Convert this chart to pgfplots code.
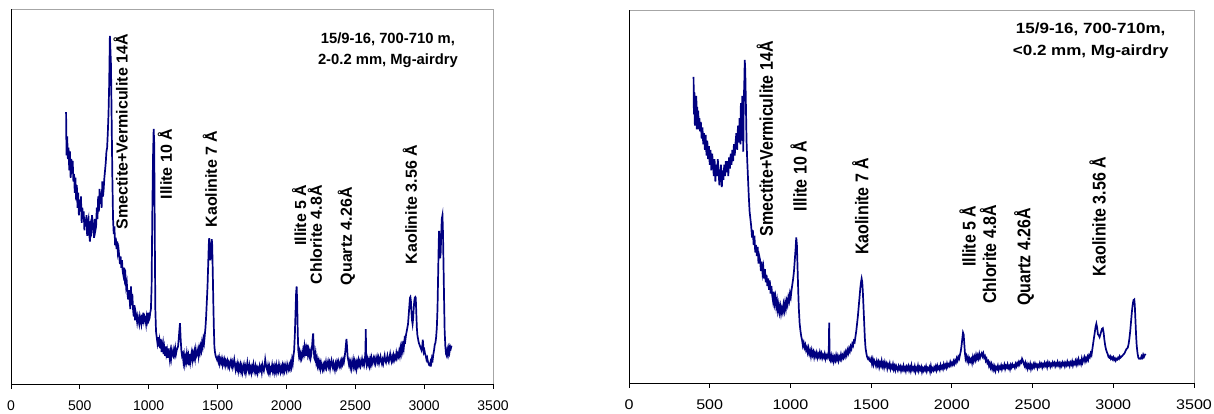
\documentclass[border=0pt]{standalone}
\usepackage{fontspec}
\setmainfont{Liberation Sans}
\usepackage{pgfplots}
\pgfplotsset{compat=1.18}
\definecolor{xrd}{RGB}{0,0,128}

\pgfplotsset{
  xrdpanel/.style={
    anchor=south west, scale only axis,
    xmin=0, xmax=3500, ymin=0, ymax=100,
    xtick={0,500,...,3500}, ytick=\empty,
    axis x line*=bottom, axis y line*=left,
    axis line style={-, black, line width=0.9pt},
    axis background/.style={draw=gray!70, line width=0.9pt},
    xtick align=outside, major tick length=5pt,
    tick style={black, line width=0.9pt},
    xticklabel style={font=\fontsize{14}{16}\selectfont, yshift=-8pt},
    /pgf/number format/assume math mode=true,
    /pgf/number format/set thousands separator={},
  },
}
\tikzset{
  pk/.style={rotate=90, anchor=west, inner sep=0pt, font=\fontsize{16}{18}\selectfont\bfseries},
  ttl/.style={anchor=center, inner sep=0pt, font=\fontsize{14.8}{18}\selectfont\bfseries},
}

\begin{document}
\begin{tikzpicture}
\useasboundingbox (0,0) rectangle (1214pt,414pt);

% ---- left: 2-0.2 mm fraction
\begin{axis}[xrdpanel, at={(11pt,30pt)}, width=482pt, height=375pt]
\addplot[xrd, line width=1.7pt] coordinates {
(400,72.5)(403,61)(408,66)(413,60)(418,63)(423,57)(428,62)(433,55)(438,60)(443,58)
(448,59.5)(453,54)(458,56)(463,51)(468,55)(473,49)(478,53)(483,47)(488,51)(493,45)
(498,49)(503,46)(508,50)(513,43)(518,47)(523,44)(528,46)(533,41)(538,44)(543,42)
(548,45)(553,39.5)(558,43)(563,44)(568,40)(573,38)(578,42)(583,41)(588,45)(593,43)
(598,41)(603,39)(608,44)(613,41)(618,42)(623,47)(628,44)(633,50)(638,46)(643,52)
(648,48)(653,51)(658,47)(663,54)(668,50)(673,52)(678,55)(683,57)(688,59)(693,62)
(698,63)(703,67)(708,72)(713,80)(718,92.8)(721,90)(726,85)(731,70)(736,55)(741,44)
(746,40)(751,42)(756,37)(761,39)(766,36)(771,38)(776,35)(781,36)(786,34)(791,32)
(796,34)(801,31)(806,33)(811,30)(816,29)(821,31)(826,28)(831,29)(836,26)(841,27)
(846,24)(851,22.5)(856,25)(861,23)(866,20)(871,26)(876,21)(881,24)(886,20)(891,18)
(896,21)(901,17)(906,19)(911,18)(916,16.5)(921,18)(926,17)(931,16)(936,18)(941,17)
(946,16)(951,18.5)(956,16)(961,19)(966,17)(971,18)(976,17.5)(981,16)(986,18)(991,17)
(996,19)(1001,17)(1006,17.5)(1011,19)(1016,20)(1021,26)(1026,45)(1031,60)(1036,68)(1040,64)
(1044,40)(1048,20)(1053,14)(1058,12.5)(1063,11)(1068,12.5)(1073,10)(1078,11.5)(1083,9.5)(1088,12)
(1093,8.5)(1098,10)(1103,11)(1108,8)(1113,9.5)(1118,7.5)(1123,10)(1128,8)(1133,9)(1138,7)
(1143,9.5)(1148,8)(1153,6.5)(1158,8.5)(1163,7)(1168,9)(1173,8)(1178,7.5)(1183,9)(1188,8)
(1193,9.5)(1198,8)(1203,9)(1208,9.5)(1213,10)(1218,12)(1223,14.5)(1227,16.2)(1232,12)(1237,9)
(1242,7.5)(1247,8)(1252,6)(1257,7.5)(1262,5.5)(1267,7)(1272,6)(1277,8)(1282,6.5)(1287,7.5)
(1292,5)(1297,8)(1302,6)(1307,7.5)(1312,8.5)(1317,6.5)(1322,8)(1327,7)(1332,8.5)(1337,7)
(1342,9)(1347,7.5)(1352,8)(1357,9)(1362,7.5)(1367,9.5)(1372,8.5)(1377,10)(1382,9)(1387,11)
(1392,10)(1397,12)(1402,11)(1407,13)(1412,15)(1417,18)(1422,22)(1427,26)(1432,32)(1436,37)
(1439,38.9)(1443,36)(1447,33)(1450,34)(1454,37)(1458,38.6)(1461,37)(1465,30)(1469,22)(1473,15)
(1477,10)(1481,8.5)(1486,7.5)(1491,7)(1496,6.5)(1501,7)(1506,6)(1511,7)(1516,5.5)(1521,6.5)
(1526,5.8)(1531,6.7)(1536,5.2)(1541,6.3)(1546,5.5)(1551,6.4)(1556,5)(1561,6)(1566,5.3)(1571,6.1)
(1576,4.8)(1581,5.6)(1586,4.5)(1591,5.5)(1596,6.2)(1601,5)(1606,5.8)(1611,4.5)(1616,5.4)(1621,6.5)
(1626,5)(1631,3.8)(1636,5)(1641,4.2)(1646,5.3)(1651,3.6)(1656,4.8)(1661,3.9)(1666,5)(1671,3.5)
(1676,4.6)(1681,3.2)(1686,4.4)(1691,5.2)(1696,3.6)(1701,4.5)(1706,3)(1711,4.2)(1716,5.6)(1721,4)
(1726,3.3)(1731,4.8)(1736,3.5)(1741,4.3)(1746,3.1)(1751,4.5)(1756,3.7)(1761,5.2)(1766,4)(1771,3.2)
(1776,4.6)(1781,3.4)(1786,4.2)(1791,3)(1796,4.1)(1801,3.6)(1806,4.8)(1811,3.9)(1816,4.5)(1821,3.2)
(1826,5)(1831,4.1)(1836,3.5)(1841,4.7)(1846,6.5)(1851,5.2)(1856,4.4)(1861,3.6)(1866,4.8)(1871,3.4)
(1876,4.5)(1881,3.1)(1886,4.2)(1891,3.8)(1896,5)(1901,3.5)(1906,4.4)(1911,3.2)(1916,4.6)(1921,3.6)
(1926,4.9)(1931,3.3)(1936,4.3)(1941,3.5)(1946,5.1)(1951,4)(1956,3.2)(1961,4.5)(1966,3.7)(1971,4.8)
(1976,3.4)(1981,4.6)(1986,3.6)(1991,5)(1996,4.2)(2001,3.5)(2006,5.2)(2011,4.4)(2016,3.8)(2021,5)
(2026,4.2)(2031,5.5)(2036,4.6)(2041,6.5)(2046,5.5)(2051,7.5)(2056,9)(2061,13)(2066,19)(2070,24)
(2074,26)(2078,22)(2082,14)(2086,9)(2091,7.5)(2096,8.5)(2101,7)(2106,8)(2111,6.8)(2116,7.5)
(2121,9)(2126,8)(2131,10)(2136,8.5)(2141,9.5)(2146,7.5)(2151,10.5)(2156,8)(2161,9)(2166,7.5)
(2171,8.5)(2176,7)(2181,8)(2186,10)(2190,12)(2194,13.5)(2198,10)(2202,7)(2207,6.5)(2212,8)
(2217,5.8)(2222,6.7)(2227,5)(2232,6)(2237,4.7)(2242,5.7)(2247,4.2)(2252,5.5)(2257,4.5)(2262,3.8)
(2267,5)(2272,4.1)(2277,5.3)(2282,4.6)(2287,5.8)(2292,4.4)(2297,5.2)(2302,6)(2307,4.7)(2312,5.6)
(2317,4.2)(2322,5.5)(2327,6.3)(2332,5)(2337,4.3)(2342,5.6)(2347,4.8)(2352,3.8)(2357,5.3)(2362,4.4)
(2367,5.7)(2372,4.8)(2377,6)(2382,5.2)(2387,4.6)(2392,5.8)(2397,5)(2402,6.2)(2407,5.4)(2412,6.5)
(2417,5.8)(2422,7)(2427,8.5)(2432,10.5)(2436,12)(2440,10)(2444,7.5)(2449,6.3)(2454,5.2)(2459,6)
(2464,4.6)(2469,5.7)(2474,4.2)(2479,5.3)(2484,6.4)(2489,4.8)(2494,5.9)(2499,4.5)(2504,5.5)(2509,4.2)
(2514,5.8)(2519,5)(2524,6.3)(2529,5.2)(2534,6)(2539,4.8)(2544,5.5)(2549,6.6)(2554,5.4)(2559,6)
(2564,5)(2569,6)(2574,9)(2576,14.6)(2579,8)(2583,5.5)(2588,6.5)(2593,5.3)(2598,6.2)(2603,5)
(2608,6.5)(2613,5.3)(2618,6.8)(2623,5.6)(2628,6.4)(2633,7)(2638,5.8)(2643,6.7)(2648,5.5)(2653,6.3)
(2658,7.2)(2663,6)(2668,6.9)(2673,5.6)(2678,6.5)(2683,7.3)(2688,6.1)(2693,5.4)(2698,6.4)(2703,5.5)
(2708,6.7)(2713,7.6)(2718,6.2)(2723,5.7)(2728,6.6)(2733,7.5)(2738,6.3)(2743,5.8)(2748,7)(2753,8)
(2758,6.7)(2763,6)(2768,7.2)(2773,6.4)(2778,7.6)(2783,6.5)(2788,7.3)(2793,6.8)(2798,8.2)(2803,7.1)
(2808,8)(2813,7.4)(2818,8.6)(2823,7.6)(2828,9.5)(2833,8.3)(2838,10)(2843,9)(2848,11.5)(2853,10)
(2858,12)(2863,11.5)(2868,13)(2873,14)(2878,15)(2883,16)(2888,18.5)(2893,21)(2897,23)(2900,23.2)
(2904,22)(2908,19)(2912,17)(2916,16)(2920,17.5)(2924,20)(2928,22)(2932,23)(2936,23.2)(2939,23)
(2943,19)(2947,15)(2951,13)(2956,12)(2961,11)(2966,10.5)(2971,10)(2976,9.5)(2981,9)(2986,10)
(2990,11.8)(2993,10.5)(2997,8.5)(3002,9)(3007,8)(3012,7.5)(3017,6.5)(3022,7)(3027,6)(3032,5.5)
(3037,5)(3042,4.9)(3047,6)(3052,5.5)(3057,7)(3062,6.5)(3067,8)(3072,9)(3077,10.5)(3082,11)
(3087,12.5)(3092,15)(3097,20)(3101,28)(3105,36)(3108,40.8)(3112,38)(3116,33.5)(3120,35)(3124,40)
(3128,44)(3133,45)(3137,40)(3141,31)(3145,22)(3149,14)(3154,10)(3159,8)(3164,7.5)(3169,9)
(3174,8)(3179,9.5)(3184,8.5)(3189,10)(3194,9.5)(3199,10.2)
};
\node[pk] at (axis cs:796,41.2) {Smectite+Vermiculite 14Å};
\node[pk] at (axis cs:1118,49.2) {Illite 10 Å};
\node[pk] at (axis cs:1444,41.7) {Kaolinite 7 Å};
\node[pk] at (axis cs:2092,36.8) {Illite 5 Å};
\node[pk] at (axis cs:2206,26.6) {Chlorite 4.8Å};
\node[pk] at (axis cs:2436,26.3) {Quartz 4.26Å};
\node[pk] at (axis cs:2896,31.9) {Kaolinite 3.56 Å};
\node[ttl] at (axis cs:2737,92) {15/9-16, 700-710 m,};
\node[ttl] at (axis cs:2737,86.3) {2-0.2 mm, Mg-airdry};
\end{axis}

% ---- right: <0.2 mm fraction (chart is stretched sideways in the source)
\begin{axis}[xrdpanel, at={(629pt,31pt)}, width=565pt, height=373pt,
  xticklabel style={xscale=1.15}]
\addplot[xrd, line width=1.7pt] coordinates {
(400,82.1)(402,72)(405,78)(408,69)(411,76)(414,70)(417,77)(420,68)(423,74)(426,69.5)
(429,73)(432,68)(436,71)(440,67.5)(445,70)(450,65.5)(455,68.5)(460,64)(465,67)(470,62.5)
(475,66.5)(480,61)(485,65)(490,60)(495,63.5)(500,58.5)(505,62.5)(510,57)(515,61.5)(520,59)
(525,55.5)(530,60)(535,54)(540,58.5)(545,55.5)(550,60)(555,56.5)(560,53)(565,56)(570,58.5)
(575,52.5)(580,57)(585,54.5)(590,58.5)(595,55.5)(600,59.5)(605,56.5)(610,59.5)(615,55.5)(620,60.5)
(625,57.5)(630,61.5)(635,58.5)(640,62.5)(645,59.5)(650,64)(655,61)(660,64.5)(665,67)(670,62.5)
(675,69)(680,64.5)(685,71)(690,64)(693,75)(696,65)(699,73)(702,77)(705,69)(708,62)
(711,76)(714,80)(717,86.6)(720,84)(724,75)(728,65)(732,60)(737,55)(742,50)(747,46)
(752,44)(757,42)(762,39)(767,41)(772,37)(777,39.5)(782,35)(787,37)(792,34)(797,36.5)
(802,32)(807,34)(812,33)(817,30)(822,32.5)(827,29.5)(832,31)(837,28)(842,30.5)(847,27)
(852,29)(857,26)(862,28)(867,25)(872,27.5)(877,24)(882,26)(887,23.5)(892,22)(897,24.5)
(902,21.5)(907,23)(912,20.5)(917,22)(922,19.5)(927,21)(932,19)(937,20.5)(942,18.6)(947,20)
(952,19)(957,21)(962,19.5)(967,21.5)(972,20)(977,22)(982,21)(987,23)(992,22)(997,24)
(1002,23)(1007,25)(1012,26.5)(1017,28)(1022,30)(1027,33)(1032,36)(1036,39)(1040,37)(1044,31)
(1048,25)(1052,20)(1057,16)(1062,14)(1067,12.5)(1072,11.5)(1077,10)(1082,10.8)(1087,9.5)(1092,10.2)
(1097,8.8)(1102,9.5)(1107,8.2)(1112,9.3)(1117,7.8)(1122,8.6)(1127,7.2)(1132,8.7)(1137,7.5)(1142,8.3)
(1147,6.9)(1152,8)(1157,7.2)(1162,8.1)(1167,6.8)(1172,7.7)(1177,7)(1182,8.2)(1187,7.1)(1192,7.9)
(1197,6.7)(1202,7.5)(1207,6.9)(1212,7.8)(1217,6.5)(1222,7.4)(1227,6.8)(1232,7.6)(1237,7)(1240,16.2)
(1243,6.5)(1248,6)(1253,7.3)(1258,6.2)(1263,7.1)(1268,5.8)(1273,6.9)(1278,6.1)(1283,7.4)(1288,6.3)
(1293,7.2)(1298,6)(1303,7)(1308,6.4)(1313,7.6)(1318,6.5)(1323,7.4)(1328,6.8)(1333,7.9)(1338,7.1)
(1343,8.3)(1348,7.5)(1353,8.8)(1358,8)(1363,9.2)(1368,8.5)(1373,9.8)(1378,9.2)(1383,10.5)(1388,10)
(1393,11.3)(1398,11)(1403,12.5)(1408,14)(1413,16)(1418,18)(1423,20.5)(1428,23)(1433,25.5)(1437,27)
(1441,28)(1445,27)(1449,24)(1453,20)(1457,16)(1461,12)(1465,9.5)(1470,8)(1475,7)(1480,6.5)
(1485,6.8)(1490,6)(1495,5.8)(1500,6.5)(1505,5.2)(1510,6.3)(1515,5)(1520,6)(1525,5.5)(1530,4.6)
(1535,5.8)(1540,4.8)(1545,5.6)(1550,4.3)(1555,5.4)(1560,4.7)(1565,5.9)(1570,4.5)(1575,5.3)(1580,4.2)
(1585,5.5)(1590,4.6)(1595,5.2)(1600,3.9)(1605,4.9)(1610,4.3)(1615,5.2)(1620,3.8)(1625,4.6)(1630,4)
(1635,5)(1640,3.7)(1645,4.5)(1650,3.5)(1655,4.6)(1660,4)(1665,3.4)(1670,4.5)(1675,3.8)(1680,4.4)
(1685,3.3)(1690,4.2)(1695,3.6)(1700,4.6)(1705,3.5)(1710,4.1)(1715,3.2)(1720,4.3)(1725,3.7)(1730,4.5)
(1735,3.4)(1740,4.2)(1745,3.3)(1750,4.7)(1755,3.6)(1760,4.1)(1765,3.4)(1770,4.4)(1775,3.1)(1780,4)
(1785,3.5)(1790,4.6)(1795,3.3)(1800,4.2)(1805,3.6)(1810,4.3)(1815,3)(1820,3.9)(1825,3.3)(1830,4.1)
(1835,3.5)(1840,4.4)(1845,3.2)(1850,4)(1855,3.6)(1860,4.2)(1865,3.1)(1870,4.5)(1875,3.3)(1880,3.9)
(1885,3.4)(1890,4.2)(1895,3.6)(1900,4.4)(1905,3.5)(1910,4.6)(1915,3.8)(1920,4.3)(1925,3.6)(1930,4.8)
(1935,4)(1940,4.5)(1945,3.8)(1950,5)(1955,4.2)(1960,4.8)(1965,4.1)(1970,5.2)(1975,4.4)(1980,5)
(1985,4.6)(1990,5.6)(1995,4.8)(2000,5.4)(2005,4.9)(2010,5.8)(2015,5.1)(2020,6)(2025,5.5)(2030,6.6)
(2035,6)(2040,7)(2045,6.5)(2050,7.5)(2055,8.5)(2060,10)(2065,12)(2069,13.5)(2073,13)(2077,10.5)
(2081,8)(2085,6.5)(2090,7.2)(2095,6)(2100,6.8)(2105,5.6)(2110,6.5)(2115,5.8)(2120,6.4)(2125,5.4)
(2130,6.9)(2135,5.9)(2140,7)(2145,6.2)(2150,7.5)(2155,6.5)(2160,7.4)(2165,6.6)(2170,7.8)(2175,6.8)
(2180,7.5)(2185,8)(2190,7.2)(2195,7.9)(2200,6.8)(2205,7.2)(2210,6)(2215,6.5)(2220,5.4)(2225,5.8)
(2230,4.6)(2235,5.3)(2240,4.2)(2245,5)(2250,3.8)(2255,4.6)(2260,3.6)(2265,4.4)(2270,3.3)(2275,4.2)
(2280,3.8)(2285,4.6)(2290,3.5)(2295,4.3)(2300,3.9)(2305,4.7)(2310,3.7)(2315,4.5)(2320,4.1)(2325,4.9)
(2330,3.8)(2335,4.6)(2340,4.2)(2345,5)(2350,4)(2355,4.5)(2360,3.7)(2365,4.8)(2370,4.2)(2375,5)
(2380,4.4)(2385,4.7)(2390,4.1)(2395,5.1)(2400,4.5)(2405,5.3)(2410,4.8)(2415,5.6)(2420,5)(2425,5.8)
(2430,5.5)(2435,6.5)(2440,6)(2445,5.2)(2450,4.6)(2455,5.4)(2460,4.3)(2465,5)(2470,3.9)(2475,4.8)
(2480,4.2)(2485,5.1)(2490,3.8)(2495,4.7)(2500,4.1)(2505,5)(2510,4.3)(2515,5.2)(2520,4.5)(2525,4.9)
(2530,4)(2535,4.8)(2540,4.4)(2545,5.3)(2550,4.6)(2555,5.1)(2560,4.2)(2565,5)(2570,4.5)(2575,5.4)
(2580,4.7)(2585,5.2)(2590,4.3)(2595,5.5)(2600,4.8)(2605,5.3)(2610,4.4)(2615,5.1)(2620,4.6)(2625,5.5)
(2630,4.9)(2635,5.4)(2640,4.5)(2645,5.2)(2650,4.7)(2655,5.6)(2660,4.8)(2665,5.3)(2670,4.4)(2675,5.2)
(2680,4.6)(2685,5.5)(2690,4.9)(2695,5.4)(2700,4.5)(2705,5.3)(2710,4.8)(2715,5.7)(2720,4.9)(2725,5.4)
(2730,4.6)(2735,5.5)(2740,5)(2745,5.8)(2750,4.7)(2755,5.5)(2760,5.1)(2765,5.9)(2770,5)(2775,6)
(2780,5.2)(2785,6.3)(2790,5.3)(2795,5.8)(2800,5.1)(2805,6.5)(2810,5.5)(2815,6.2)(2820,6.9)(2825,5.8)
(2830,6.6)(2835,6)(2840,7)(2845,6.3)(2850,7.4)(2855,7)(2860,8)(2865,7.5)(2870,9)(2875,10.5)
(2880,12)(2885,13.5)(2890,15)(2895,15.9)(2900,14.8)(2905,13)(2910,12.8)(2915,12.3)(2920,13)(2925,13.8)
(2930,14.5)(2935,14.7)(2940,13.5)(2945,11.5)(2950,10)(2955,9)(2960,8.3)(2965,7.8)(2970,7)(2975,6.8)
(2980,7.2)(2985,6.5)(2990,6.9)(2995,6.4)(3000,6.9)(3005,6.2)(3010,6.6)(3015,6)(3020,6.5)(3025,6.3)
(3030,6.8)(3035,6.5)(3040,7.2)(3045,6.8)(3050,7)(3060,7.5)(3070,8)(3080,9)(3090,9.5)(3095,10.5)
(3100,12)(3105,14)(3110,16.5)(3115,19)(3120,21)(3125,22.2)(3130,22.4)(3133,21)(3137,17)(3141,13)
(3145,10)(3150,8)(3155,6.8)(3160,6.5)(3165,6.6)(3170,6.5)(3175,7.2)(3180,6.8)(3185,7.6)(3190,7)
(3195,7.5)(3200,7.8)
};
\begin{scope}[every node/.append style={xscale=1.15}]
\node[pk] at (axis cs:841,39.2) {Smectite+Vermiculite 14Å};
\node[pk] at (axis cs:1050,46) {Illite 10 Å};
\node[pk] at (axis cs:1433,34.3) {Kaolinite 7 Å};
\node[pk] at (axis cs:2097,31.1) {Illite 5 Å};
\node[pk] at (axis cs:2224,21.2) {Chlorite 4.8Å};
\node[pk] at (axis cs:2447,20.6) {Quartz 4.26Å};
\node[pk] at (axis cs:2903,28.6) {Kaolinite 3.56 Å};
\node[ttl] at (axis cs:2860,94.7) {15/9-16, 700-710m,};
\node[ttl] at (axis cs:2860,88.9) {<0.2 mm, Mg-airdry};
\end{scope}
\end{axis}
\end{tikzpicture}
\end{document}
